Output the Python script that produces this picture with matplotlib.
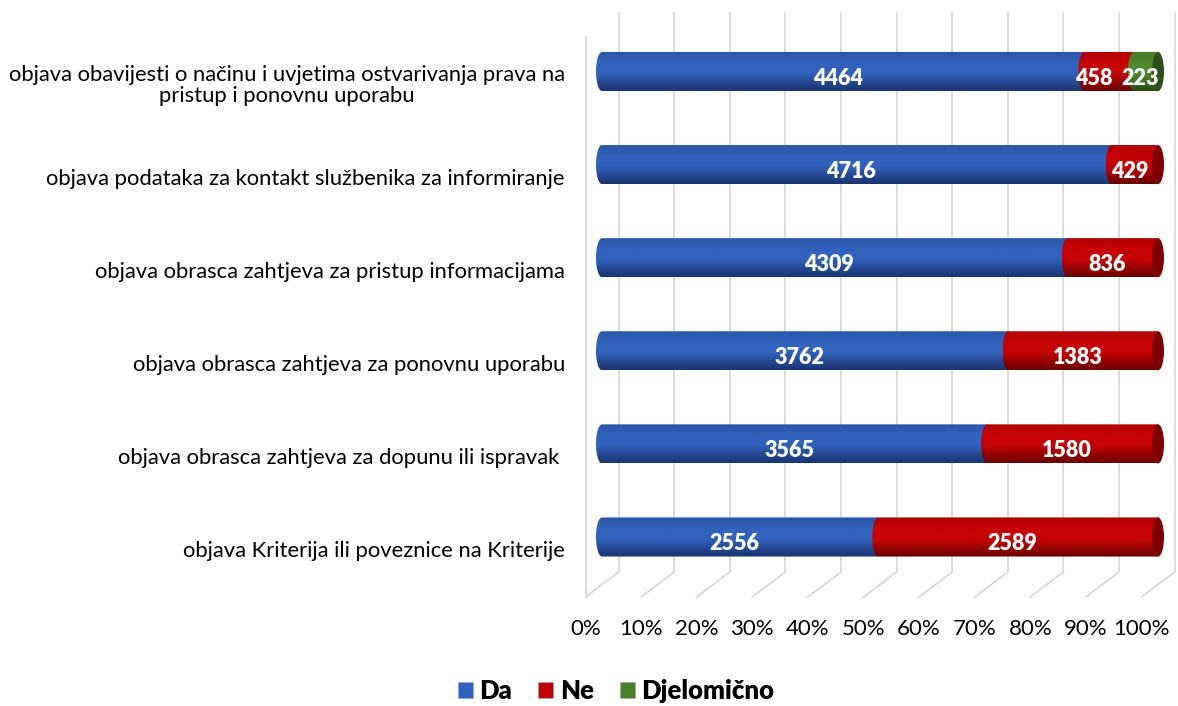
import numpy as np
import matplotlib
matplotlib.use("Agg")
import matplotlib.pyplot as plt
from matplotlib.path import Path
from matplotlib.patches import PathPatch, Ellipse, Patch
import matplotlib.transforms as mtrans
from matplotlib.colors import LinearSegmentedColormap

# ---------------- data ----------------
categories = [
    "objava obavijesti o načinu i uvjetima ostvarivanja prava na\npristup i ponovnu uporabu",
    "objava podataka za kontakt službenika za informiranje",
    "objava obrasca zahtjeva za pristup informacijama",
    "objava obrasca zahtjeva za ponovnu uporabu",
    "objava obrasca zahtjeva za dopunu ili ispravak ",
    "objava Kriterija ili poveznice na Kriterije",
]
series_names = ["Da", "Ne", "Djelomično"]
da = [4464, 4716, 4309, 3762, 3565, 2556]
ne = [458, 429, 836, 1383, 1580, 2589]
djelomicno = [223, 0, 0, 0, 0, 0]
tick_values = [0, 10, 20, 30, 40, 50, 60, 70, 80, 90, 100]
tick_labels = ["0%", "10%", "20%", "30%", "40%", "50%", "60%", "70%", "80%", "90%", "100%"]

# ---------------- style ----------------
W, H = 1178, 706
FONT = "Lato"
colors = {
    "Da": ("#2a56a6", "#3162bd", "#1a3470"),
    "Ne": ("#b00000", "#c80303", "#6a0000"),
    "Djelomično": ("#447628", "#4f8a2e", "#294915"),
}
face_colors = {"Da": "#1e3f80", "Ne": "#7e0000", "Djelomično": "#2c5118"}
legend_colors = {"Da": "#2f62c0", "Ne": "#c00000", "Djelomično": "#4a7f2a"}
grid_color = "#d9d9d9"
# extra horizontal nudge (px) for crowded data labels: (row, series) -> px
label_nudge_px = {(0, 1): -10}

fig = plt.figure(figsize=(W / 100, H / 100), dpi=100)
x0px, x1px = 602, 1158          # 0% and 100% of the bar plane
margin = 16                     # extra room so caps are not clipped
per_px = 100.0 / (x1px - x0px)
row0, step = 71.5, 93.1
top_px = row0 - step / 2
bot_px = row0 + 5.5 * step
ax = fig.add_axes([(x0px - margin) / W, (H - bot_px) / H,
                   (x1px - x0px + 2 * margin) / W, (bot_px - top_px) / H])
xlim = (-margin * per_px, 100 + margin * per_px)
ax.set_xlim(*xlim)
ax.set_ylim(5.5, -0.5)
ax.axis("off")

n = len(categories)
ys = np.arange(n)
values = np.array([da, ne, djelomicno], dtype=float)
totals = values.sum(axis=0)
pct = values / totals * 100

bar_h = 0.42
rx = 6.0 * per_px  # cap radius in data units

# ---------------- 3D grid ----------------
def fig_y(px):
    return 1 - px / H

base = mtrans.blended_transform_factory(ax.transData, fig.transFigure)
back = base + mtrans.ScaledTranslation(16.5 / 100, 0, fig.dpi_scale_trans)
front = base + mtrans.ScaledTranslation(-16.5 / 100, 0, fig.dpi_scale_trans)
for t in tick_values:
    ax.plot([t, t], [fig_y(12), fig_y(572)], transform=back, color=grid_color,
            lw=1.3, clip_on=False, zorder=0, solid_capstyle="butt")
    p_back = back.transform((t, fig_y(572)))
    p_front = front.transform((t, fig_y(597)))
    ax.plot([p_back[0], p_front[0]], [p_back[1], p_front[1]], transform=None,
            color=grid_color, lw=1.3, clip_on=False, zorder=0)
ax.plot([tick_values[0], tick_values[0]], [fig_y(37), fig_y(597)], transform=front,
        color=grid_color, lw=1.3, clip_on=False, zorder=0)

# ---------------- cylinders ----------------
def grad_cmap(c_top, c_mid, c_bot):
    return LinearSegmentedColormap.from_list(
        "g", [(0, c_top), (0.3, c_mid), (0.55, c_mid), (1.0, c_bot)])

theta = np.linspace(np.pi / 2, 3 * np.pi / 2, 40)
z = 2
for i in range(n):
    left = 0.0
    last_k = max(k for k in range(3) if pct[k, i] > 0)
    for k, name in enumerate(series_names):
        w = pct[k, i]
        if w <= 0:
            continue
        right = left + w
        y = ys[i]
        ex = left + rx * np.cos(theta)
        ey = y - (bar_h / 2) * np.sin(theta)
        verts = list(zip(ex, ey)) + [(right, y + bar_h / 2), (right, y - bar_h / 2), (ex[0], ey[0])]
        codes = [Path.MOVETO] + [Path.LINETO] * (len(verts) - 2) + [Path.CLOSEPOLY]
        clip = PathPatch(Path(verts, codes), facecolor="none", edgecolor="none",
                         transform=ax.transData)
        ax.add_patch(clip)
        grad = np.linspace(0, 1, 64).reshape(-1, 1)
        im = ax.imshow(grad, cmap=grad_cmap(*colors[name]), aspect="auto",
                       extent=(left - rx, right, y + bar_h / 2, y - bar_h / 2),
                       zorder=z, interpolation="bilinear")
        im.set_clip_path(clip)
        if k == last_k:
            e = Ellipse((right, y), 2 * rx, bar_h, facecolor=face_colors[name],
                        edgecolor="none", zorder=z + 0.5)
            ax.add_patch(e)
        dx = -5.5 + label_nudge_px.get((i, k), 0)
        ltr = ax.transData + mtrans.ScaledTranslation(dx / 100, -7 / 100, fig.dpi_scale_trans)
        ax.text(left + w / 2, y, f"{int(values[k, i])}", color="white",
                fontsize=15.5, fontweight="heavy", family=FONT, ha="center",
                va="center", zorder=100, transform=ltr)
        z += 1
        left = right

ax.set_xlim(*xlim)
ax.set_ylim(5.5, -0.5)

# ---------------- category labels ----------------
lab_tr = mtrans.blended_transform_factory(fig.transFigure, ax.transData) + \
    mtrans.ScaledTranslation(0, -14 / 100, fig.dpi_scale_trans)
for i, c in enumerate(categories):
    ax.text(565 / W, ys[i], c, transform=lab_tr, ha="right", va="center",
            multialignment="center", fontsize=15.8, family=FONT, color="#000000",
            linespacing=1.1, clip_on=False)

# ---------------- tick labels (front plane) ----------------
for t, lab in zip(tick_values, tick_labels):
    ax.text(t, fig_y(629), lab, transform=front, ha="center", va="center",
            fontsize=16, family=FONT, color="#000000", clip_on=False)

# ---------------- legend ----------------
handles = [Patch(facecolor=legend_colors[s], edgecolor="#9aa6b8", linewidth=0.5, label=s)
           for s in series_names]
leg = fig.legend(handles=handles, loc="center", bbox_to_anchor=(616 / W, 1 - 691 / H),
                 ncol=3, frameon=False, handlelength=0.6, handleheight=0.6,
                 handletextpad=0.25, columnspacing=1.0,
                 prop={"family": FONT, "weight": "heavy", "size": 18.5})

fig.savefig("out.png", dpi=100)
